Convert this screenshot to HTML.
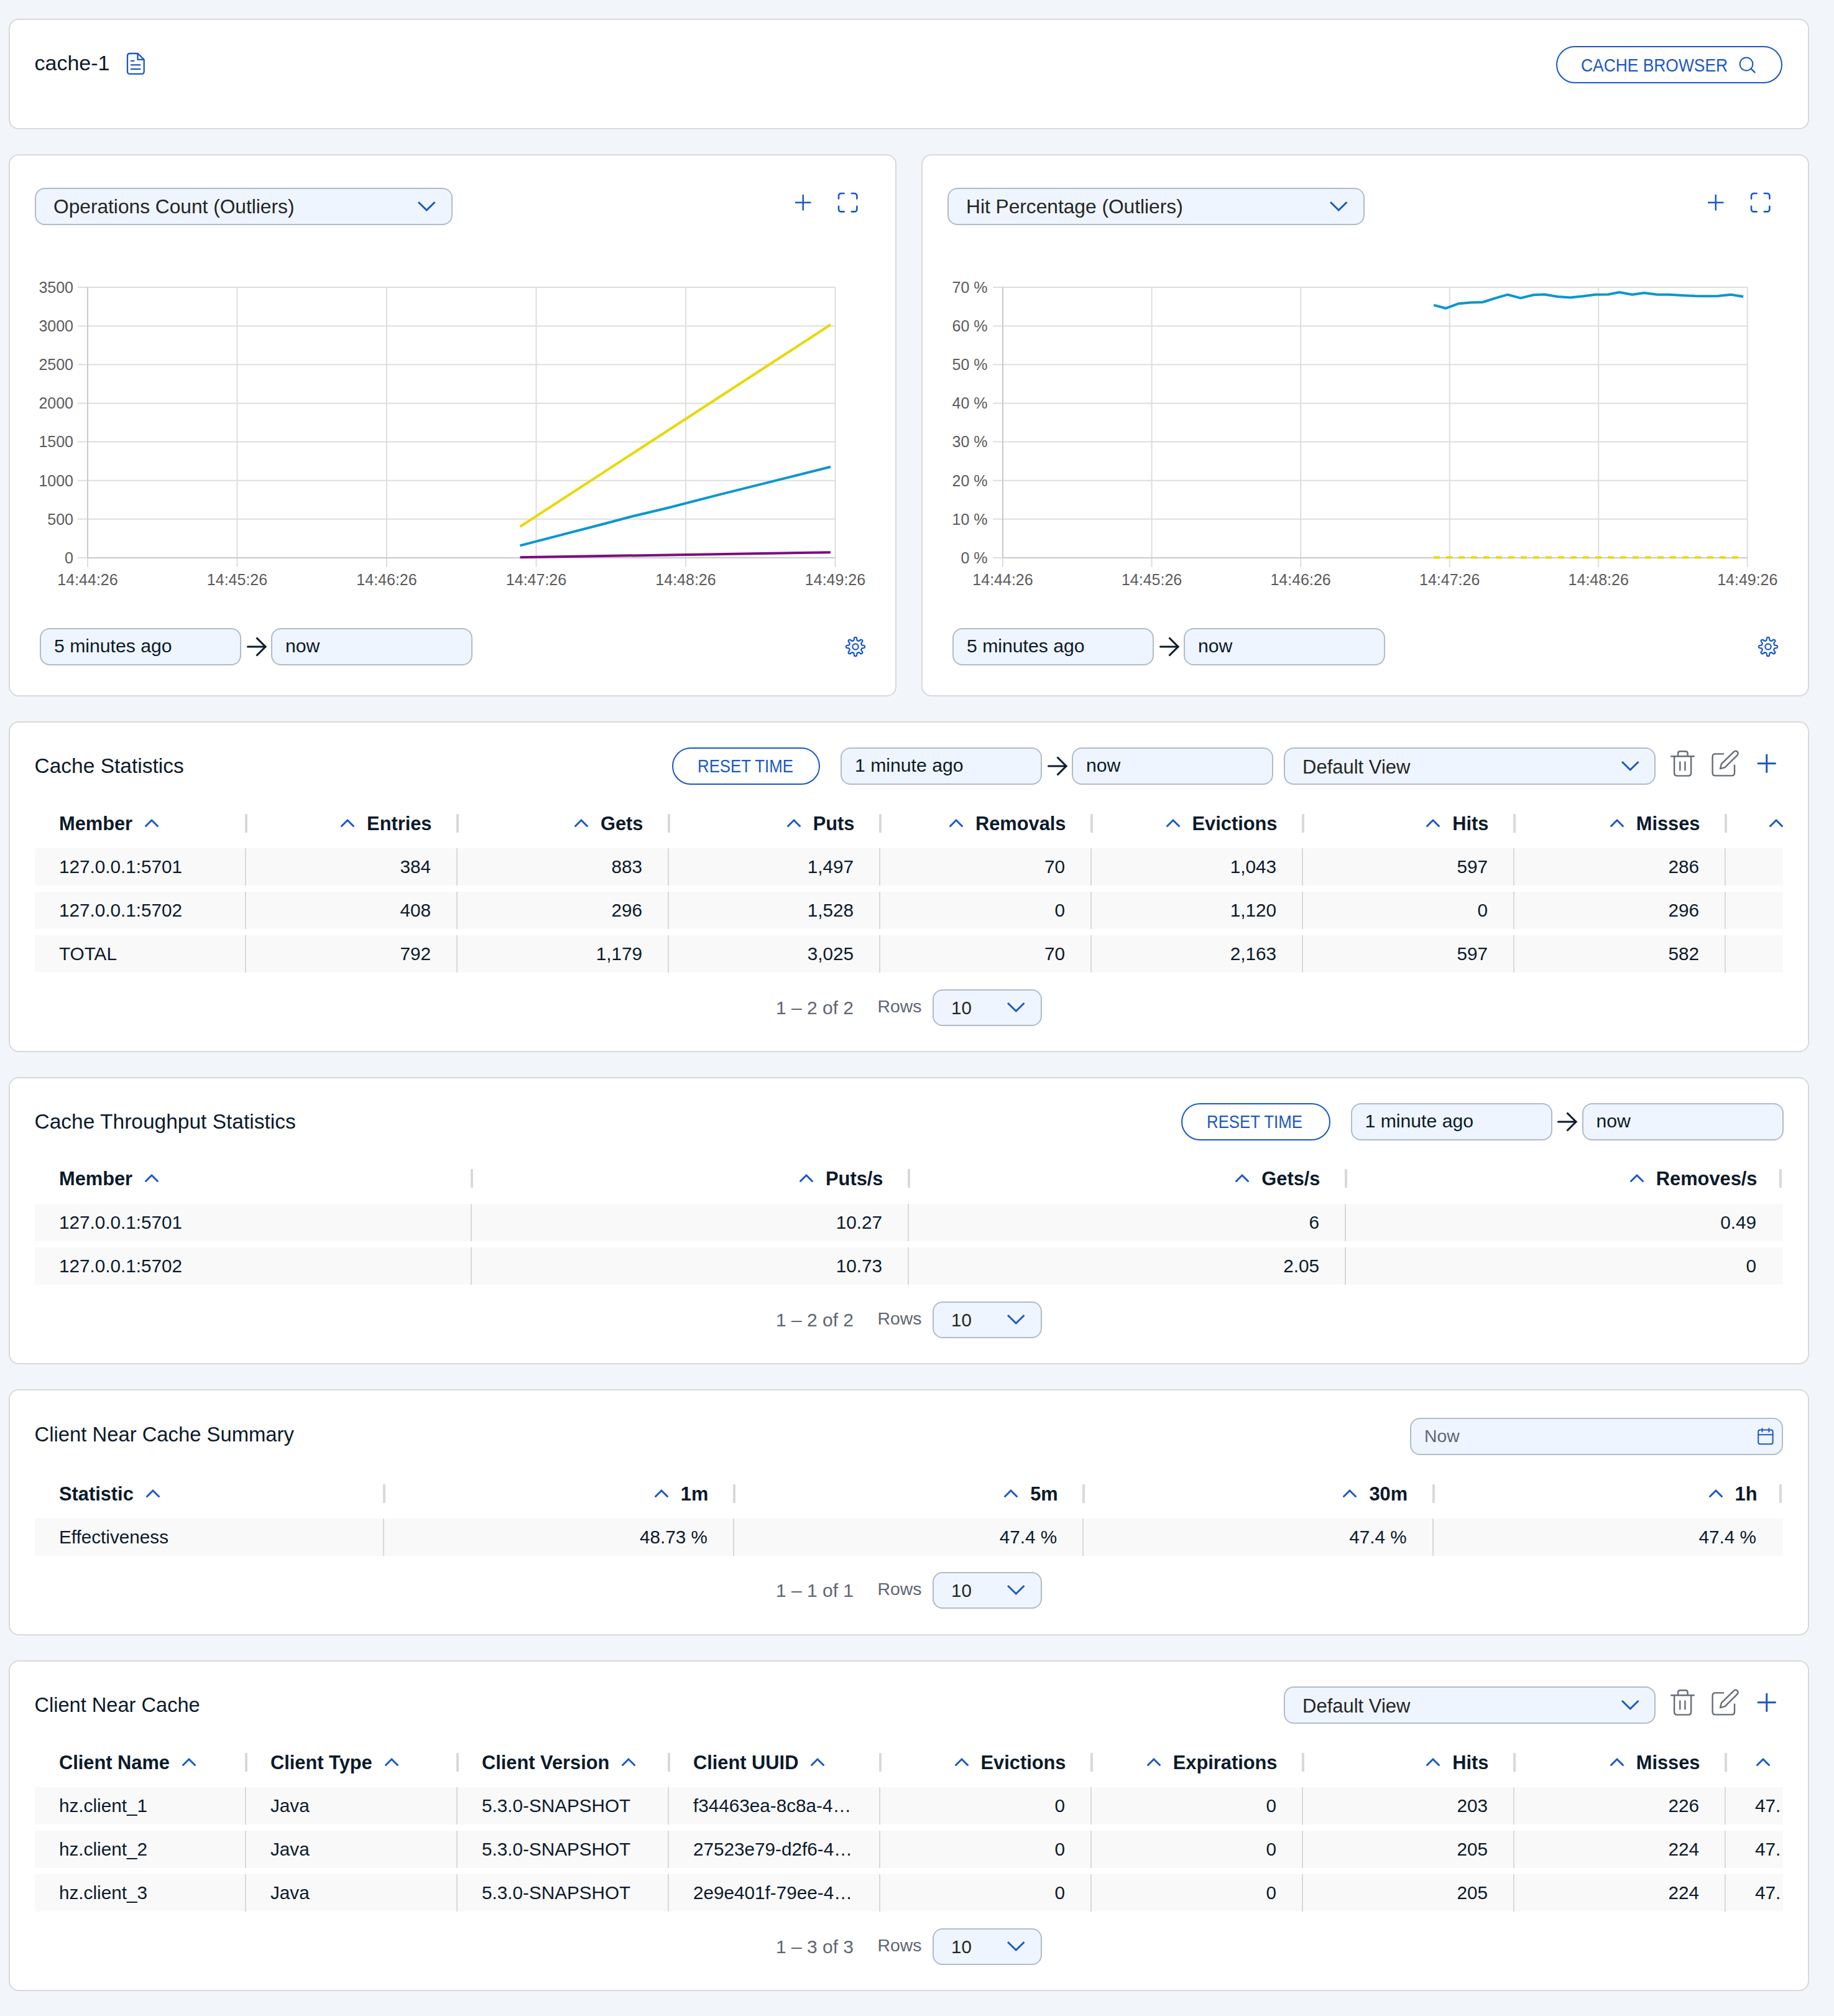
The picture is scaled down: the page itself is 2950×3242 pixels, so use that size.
<!DOCTYPE html>
<html lang="en"><head><meta charset="utf-8"><title>cache-1</title>
<style>
html,body{margin:0;padding:0}
body{width:2950px;height:3242px;position:relative;overflow:hidden;background:#f2f5fa;font-family:"Liberation Sans", Arial, Helvetica, sans-serif;}
.card{position:absolute;box-sizing:border-box;background:#fff;border:2px solid #d9d9d9;border-radius:16px;}
.a{position:absolute;display:block}
.t{position:absolute;white-space:nowrap}
svg.a{overflow:visible}
.clip{position:absolute;overflow:hidden}
</style>
<script>(function(){var w=window.innerWidth;if(w&&Math.abs(w-2950)>2){document.documentElement.style.zoom=w/2950;}})();</script>
</head><body>

<section class="card " style="left:14px;top:30px;width:2896px;height:178px">
<div class="t" style="top:51.82px;font-size:34px;line-height:34px;color:#0b1a2b;left:39.5px;">cache-1</div>
<svg class="a" style="left:185.8px;top:51.2px;" width="33" height="40" viewBox="201.8 83.2 33 40"><path d="M208.8 86.2 H221.6 L231.5 96.1 V115.1 Q231.5 119.1 227.5 119.1 H208.8 Q204.8 119.1 204.8 115.1 V90.2 Q204.8 86.2 208.8 86.2 Z M221.3 86.6 V96.1 H231.3 M210.7 98 H215.2 M210.7 104.6 H225.2 M210.7 111.4 H225.2" stroke="#1b57c4" stroke-width="2.3" fill="none" stroke-linecap="round" stroke-linejoin="round"/></svg>
<div class="a" style="left:2487px;top:42px;width:364px;height:60px;border:2px solid #1b57c4;border-radius:40px;box-sizing:border-box;background:#fff;"></div>
<div class="t" style="top:58.95px;font-size:29px;line-height:29px;color:#1b57c4;transform:scaleX(0.91);transform-origin:left center;left:2527px;">CACHE BROWSER</div>
<svg class="a" style="left:2778.6px;top:56.7px;" width="31" height="31" viewBox="2794.6 88.7 31 31"><circle cx="2808.6" cy="102.7" r="10.4" stroke="#1b57c4" stroke-width="2" fill="none"/><path d="M2816.2 110.3 L2822.2 116.1" stroke="#1b57c4" stroke-width="2.2" stroke-linecap="round"/></svg>
</section>
<section class="card " style="left:14px;top:248px;width:1428px;height:872px">
<div class="a" style="left:40px;top:52px;width:672px;height:60px;background:#eef5fe;border:2px solid #b0bcc8;border-radius:16px;box-sizing:border-box;"></div>
<div class="t" style="top:67.17px;font-size:31.7px;line-height:31.7px;color:#252525;left:70px;">Operations Count (Outliers)</div>
<svg class="a" style="left:652.75px;top:71.3px;" width="34.5" height="22" viewBox="668.75 321.3 34.5 22"><path d="M672.75 325.3 L686 338.3 L699.25 325.3" fill="none" stroke="#1b57c4" stroke-width="3" stroke-linecap="butt" stroke-linejoin="miter"/></svg>
<svg class="a" style="left:1260.25px;top:60.15px;" width="31.5" height="31.5" viewBox="1276.25 310.15 31.5 31.5"><path d="M1279.25 325.9 H1304.75 M1292 313.15 V338.65" stroke="#1b57c4" stroke-width="2.5" stroke-linecap="butt" fill="none"/></svg>
<svg class="a" style="left:1330.3px;top:58.3px;" width="35.4" height="35.4" viewBox="1346.3 308.3 35.4 35.4"><path d="M1349.3 319.9 V315.8 Q1349.3 311.3 1353.8 311.3 H1357.9 M1370.1 311.3 H1374.2 Q1378.7 311.3 1378.7 315.8 V319.9 M1378.7 332.1 V336.2 Q1378.7 340.7 1374.2 340.7 H1370.1 M1357.9 340.7 H1353.8 Q1349.3 340.7 1349.3 336.2 V332.1" stroke="#1b57c4" stroke-width="2.6" fill="none" stroke-linecap="round"/></svg>
<svg class="a" style="left:5px;top:190px;font-family:'Liberation Sans', Arial, Helvetica, sans-serif;" width="1392.5" height="520" viewBox="21 440 1392.5 520"><line x1="125" y1="462" x2="1343.5" y2="462" stroke="#dedede" stroke-width="2"/><line x1="125" y1="524.14" x2="1343.5" y2="524.14" stroke="#dedede" stroke-width="2"/><line x1="125" y1="586.29" x2="1343.5" y2="586.29" stroke="#dedede" stroke-width="2"/><line x1="125" y1="648.43" x2="1343.5" y2="648.43" stroke="#dedede" stroke-width="2"/><line x1="125" y1="710.57" x2="1343.5" y2="710.57" stroke="#dedede" stroke-width="2"/><line x1="125" y1="772.71" x2="1343.5" y2="772.71" stroke="#dedede" stroke-width="2"/><line x1="125" y1="834.86" x2="1343.5" y2="834.86" stroke="#dedede" stroke-width="2"/><line x1="125" y1="897" x2="1343.5" y2="897" stroke="#dedede" stroke-width="2"/><line x1="141" y1="462" x2="141" y2="912" stroke="#dedede" stroke-width="2"/><line x1="381.5" y1="462" x2="381.5" y2="912" stroke="#dedede" stroke-width="2"/><line x1="622" y1="462" x2="622" y2="912" stroke="#dedede" stroke-width="2"/><line x1="862.5" y1="462" x2="862.5" y2="912" stroke="#dedede" stroke-width="2"/><line x1="1103" y1="462" x2="1103" y2="912" stroke="#dedede" stroke-width="2"/><line x1="1343.5" y1="462" x2="1343.5" y2="912" stroke="#dedede" stroke-width="2"/><line x1="141" y1="462" x2="141" y2="897" stroke="#c9c9c9" stroke-width="2"/><line x1="141" y1="897" x2="1343.5" y2="897" stroke="#c9c9c9" stroke-width="2"/><polyline points="836.5,847 1336.2,522" fill="none" stroke="#e9d80a" stroke-width="4" stroke-linejoin="round"/><polyline points="836.5,877.4 976,841.3 1013.6,831.2 1074.3,816.7 1155.3,795.9 1336,750.8" fill="none" stroke="#0a97cf" stroke-width="4" stroke-linejoin="round"/><polyline points="836.5,896.3 1336,888.2" fill="none" stroke="#7c0f7b" stroke-width="4" stroke-linejoin="round"/><text x="118" y="470.8" text-anchor="end" font-size="25" fill="#5b5b5b">3500</text><text x="118" y="532.94" text-anchor="end" font-size="25" fill="#5b5b5b">3000</text><text x="118" y="595.09" text-anchor="end" font-size="25" fill="#5b5b5b">2500</text><text x="118" y="657.23" text-anchor="end" font-size="25" fill="#5b5b5b">2000</text><text x="118" y="719.37" text-anchor="end" font-size="25" fill="#5b5b5b">1500</text><text x="118" y="781.51" text-anchor="end" font-size="25" fill="#5b5b5b">1000</text><text x="118" y="843.66" text-anchor="end" font-size="25" fill="#5b5b5b">500</text><text x="118" y="905.8" text-anchor="end" font-size="25" fill="#5b5b5b">0</text><text x="141" y="941.3" text-anchor="middle" font-size="25" fill="#5b5b5b">14:44:26</text><text x="381.5" y="941.3" text-anchor="middle" font-size="25" fill="#5b5b5b">14:45:26</text><text x="622" y="941.3" text-anchor="middle" font-size="25" fill="#5b5b5b">14:46:26</text><text x="862.5" y="941.3" text-anchor="middle" font-size="25" fill="#5b5b5b">14:47:26</text><text x="1103" y="941.3" text-anchor="middle" font-size="25" fill="#5b5b5b">14:48:26</text><text x="1343.5" y="941.3" text-anchor="middle" font-size="25" fill="#5b5b5b">14:49:26</text></svg>
<div class="a" style="left:48px;top:760px;width:324px;height:60px;background:#eef5fe;border:2px solid #b0bcc8;border-radius:16px;box-sizing:border-box;"></div>
<div class="t" style="top:773.74px;font-size:30.2px;line-height:30.2px;color:#0b1a2b;left:71px;">5 minutes ago</div>
<svg class="a" style="left:378.5px;top:770px;" width="38" height="40" viewBox="394.5 1020 38 40"><path d="M398 1040 H426.5" stroke="#0b1a2b" stroke-width="3" stroke-linecap="round" fill="none"/><path d="M412 1025.5 L426.5 1040 L412 1054.5" stroke="#0b1a2b" stroke-width="3" fill="none" stroke-linecap="butt" stroke-linejoin="miter"/></svg>
<div class="a" style="left:420px;top:760px;width:324px;height:60px;background:#eef5fe;border:2px solid #b0bcc8;border-radius:16px;box-sizing:border-box;"></div>
<div class="t" style="top:773.74px;font-size:30.2px;line-height:30.2px;color:#0b1a2b;left:443px;">now</div>
<svg class="a" style="left:1342px;top:772px;" width="36" height="36" viewBox="1358 1022 36 36"><path d="M1374.22 1025.51 Q1376 1024.2 1377.78 1025.51 L1378.69 1029.95 A10.4 10.4 0 0 1 1381.2 1030.99 L1384.99 1028.5 Q1387.17 1028.83 1387.5 1031.01 L1385.01 1034.8 A10.4 10.4 0 0 1 1386.05 1037.31 L1390.49 1038.22 Q1391.8 1040 1390.49 1041.78 L1386.05 1042.69 A10.4 10.4 0 0 1 1385.01 1045.2 L1387.5 1048.99 Q1387.17 1051.17 1384.99 1051.5 L1381.2 1049.01 A10.4 10.4 0 0 1 1378.69 1050.05 L1377.78 1054.49 Q1376 1055.8 1374.22 1054.49 L1373.31 1050.05 A10.4 10.4 0 0 1 1370.8 1049.01 L1367.01 1051.5 Q1364.83 1051.17 1364.5 1048.99 L1366.99 1045.2 A10.4 10.4 0 0 1 1365.95 1042.69 L1361.51 1041.78 Q1360.2 1040 1361.51 1038.22 L1365.95 1037.31 A10.4 10.4 0 0 1 1366.99 1034.8 L1364.5 1031.01 Q1364.83 1028.83 1367.01 1028.5 L1370.8 1030.99 A10.4 10.4 0 0 1 1373.31 1029.95 Z" fill="none" stroke="#1b57c4" stroke-width="2.2" stroke-linejoin="round"/><circle cx="1376" cy="1040" r="4.7" fill="none" stroke="#1b57c4" stroke-width="2.2"/></svg>
</section>
<section class="card " style="left:1482px;top:248px;width:1428px;height:872px">
<div class="a" style="left:39.5px;top:52px;width:671.5px;height:60px;background:#eef5fe;border:2px solid #b0bcc8;border-radius:16px;box-sizing:border-box;"></div>
<div class="t" style="top:67.17px;font-size:31.7px;line-height:31.7px;color:#252525;left:70px;">Hit Percentage (Outliers)</div>
<svg class="a" style="left:651.75px;top:71.3px;" width="34.5" height="22" viewBox="2135.75 321.3 34.5 22"><path d="M2139.75 325.3 L2153 338.3 L2166.25 325.3" fill="none" stroke="#1b57c4" stroke-width="3" stroke-linecap="butt" stroke-linejoin="miter"/></svg>
<svg class="a" style="left:1260.25px;top:60.15px;" width="31.5" height="31.5" viewBox="2744.25 310.15 31.5 31.5"><path d="M2747.25 325.9 H2772.75 M2760 313.15 V338.65" stroke="#1b57c4" stroke-width="2.5" stroke-linecap="butt" fill="none"/></svg>
<svg class="a" style="left:1330.3px;top:58.3px;" width="35.4" height="35.4" viewBox="2814.3 308.3 35.4 35.4"><path d="M2817.3 319.9 V315.8 Q2817.3 311.3 2821.8 311.3 H2825.9 M2838.1 311.3 H2842.2 Q2846.7 311.3 2846.7 315.8 V319.9 M2846.7 332.1 V336.2 Q2846.7 340.7 2842.2 340.7 H2838.1 M2825.9 340.7 H2821.8 Q2817.3 340.7 2817.3 336.2 V332.1" stroke="#1b57c4" stroke-width="2.6" fill="none" stroke-linecap="round"/></svg>
<svg class="a" style="left:9px;top:190px;font-family:'Liberation Sans', Arial, Helvetica, sans-serif;" width="1387.8" height="520" viewBox="1493 440 1387.8 520"><line x1="1597" y1="462" x2="2810.8" y2="462" stroke="#dedede" stroke-width="2"/><line x1="1597" y1="524.14" x2="2810.8" y2="524.14" stroke="#dedede" stroke-width="2"/><line x1="1597" y1="586.29" x2="2810.8" y2="586.29" stroke="#dedede" stroke-width="2"/><line x1="1597" y1="648.43" x2="2810.8" y2="648.43" stroke="#dedede" stroke-width="2"/><line x1="1597" y1="710.57" x2="2810.8" y2="710.57" stroke="#dedede" stroke-width="2"/><line x1="1597" y1="772.71" x2="2810.8" y2="772.71" stroke="#dedede" stroke-width="2"/><line x1="1597" y1="834.86" x2="2810.8" y2="834.86" stroke="#dedede" stroke-width="2"/><line x1="1597" y1="897" x2="2810.8" y2="897" stroke="#dedede" stroke-width="2"/><line x1="1613" y1="462" x2="1613" y2="912" stroke="#dedede" stroke-width="2"/><line x1="1852.56" y1="462" x2="1852.56" y2="912" stroke="#dedede" stroke-width="2"/><line x1="2092.12" y1="462" x2="2092.12" y2="912" stroke="#dedede" stroke-width="2"/><line x1="2331.68" y1="462" x2="2331.68" y2="912" stroke="#dedede" stroke-width="2"/><line x1="2571.24" y1="462" x2="2571.24" y2="912" stroke="#dedede" stroke-width="2"/><line x1="2810.8" y1="462" x2="2810.8" y2="912" stroke="#dedede" stroke-width="2"/><line x1="1613" y1="462" x2="1613" y2="897" stroke="#c9c9c9" stroke-width="2"/><line x1="1613" y1="897" x2="2810.8" y2="897" stroke="#c9c9c9" stroke-width="2"/><polyline points="2306.2,490.6 2325.4,495.8 2346.3,488.2 2365.5,486.4 2384.7,486 2405.6,479.4 2424.8,473.8 2445.8,479.4 2466.7,474.2 2484.1,473.5 2505.1,477 2526,478.4 2547,476.3 2566.2,473.8 2587.1,473.5 2604.5,470 2625.5,473.8 2644.7,471 2665.6,473.8 2684.8,473.8 2705.7,474.9 2726.7,476 2745.9,476.3 2763.3,476 2784.3,473.8 2804.1,477" fill="none" stroke="#0a97cf" stroke-width="4" stroke-linejoin="round"/><polyline points="2306,896.5 2796,896.5" fill="none" stroke="#e9d80a" stroke-width="4" stroke-dasharray="10 10" stroke-linejoin="round"/><text x="1588.5" y="470.8" text-anchor="end" font-size="25" fill="#5b5b5b">70 %</text><text x="1588.5" y="532.94" text-anchor="end" font-size="25" fill="#5b5b5b">60 %</text><text x="1588.5" y="595.09" text-anchor="end" font-size="25" fill="#5b5b5b">50 %</text><text x="1588.5" y="657.23" text-anchor="end" font-size="25" fill="#5b5b5b">40 %</text><text x="1588.5" y="719.37" text-anchor="end" font-size="25" fill="#5b5b5b">30 %</text><text x="1588.5" y="781.51" text-anchor="end" font-size="25" fill="#5b5b5b">20 %</text><text x="1588.5" y="843.66" text-anchor="end" font-size="25" fill="#5b5b5b">10 %</text><text x="1588.5" y="905.8" text-anchor="end" font-size="25" fill="#5b5b5b">0 %</text><text x="1613" y="941.3" text-anchor="middle" font-size="25" fill="#5b5b5b">14:44:26</text><text x="1852.56" y="941.3" text-anchor="middle" font-size="25" fill="#5b5b5b">14:45:26</text><text x="2092.12" y="941.3" text-anchor="middle" font-size="25" fill="#5b5b5b">14:46:26</text><text x="2331.68" y="941.3" text-anchor="middle" font-size="25" fill="#5b5b5b">14:47:26</text><text x="2571.24" y="941.3" text-anchor="middle" font-size="25" fill="#5b5b5b">14:48:26</text><text x="2810.8" y="941.3" text-anchor="middle" font-size="25" fill="#5b5b5b">14:49:26</text></svg>
<div class="a" style="left:48px;top:760px;width:324px;height:60px;background:#eef5fe;border:2px solid #b0bcc8;border-radius:16px;box-sizing:border-box;"></div>
<div class="t" style="top:773.74px;font-size:30.2px;line-height:30.2px;color:#0b1a2b;left:71px;">5 minutes ago</div>
<svg class="a" style="left:378.5px;top:770px;" width="38" height="40" viewBox="1862.5 1020 38 40"><path d="M1866 1040 H1894.5" stroke="#0b1a2b" stroke-width="3" stroke-linecap="round" fill="none"/><path d="M1880 1025.5 L1894.5 1040 L1880 1054.5" stroke="#0b1a2b" stroke-width="3" fill="none" stroke-linecap="butt" stroke-linejoin="miter"/></svg>
<div class="a" style="left:420px;top:760px;width:324px;height:60px;background:#eef5fe;border:2px solid #b0bcc8;border-radius:16px;box-sizing:border-box;"></div>
<div class="t" style="top:773.74px;font-size:30.2px;line-height:30.2px;color:#0b1a2b;left:443px;">now</div>
<svg class="a" style="left:1342px;top:772px;" width="36" height="36" viewBox="2826 1022 36 36"><path d="M2842.22 1025.51 Q2844 1024.2 2845.78 1025.51 L2846.69 1029.95 A10.4 10.4 0 0 1 2849.2 1030.99 L2852.99 1028.5 Q2855.17 1028.83 2855.5 1031.01 L2853.01 1034.8 A10.4 10.4 0 0 1 2854.05 1037.31 L2858.49 1038.22 Q2859.8 1040 2858.49 1041.78 L2854.05 1042.69 A10.4 10.4 0 0 1 2853.01 1045.2 L2855.5 1048.99 Q2855.17 1051.17 2852.99 1051.5 L2849.2 1049.01 A10.4 10.4 0 0 1 2846.69 1050.05 L2845.78 1054.49 Q2844 1055.8 2842.22 1054.49 L2841.31 1050.05 A10.4 10.4 0 0 1 2838.8 1049.01 L2835.01 1051.5 Q2832.83 1051.17 2832.5 1048.99 L2834.99 1045.2 A10.4 10.4 0 0 1 2833.95 1042.69 L2829.51 1041.78 Q2828.2 1040 2829.51 1038.22 L2833.95 1037.31 A10.4 10.4 0 0 1 2834.99 1034.8 L2832.5 1031.01 Q2832.83 1028.83 2835.01 1028.5 L2838.8 1030.99 A10.4 10.4 0 0 1 2841.31 1029.95 Z" fill="none" stroke="#1b57c4" stroke-width="2.2" stroke-linejoin="round"/><circle cx="2844" cy="1040" r="4.7" fill="none" stroke="#1b57c4" stroke-width="2.2"/></svg>
</section>
<section class="card " style="left:14px;top:1160px;width:2896px;height:532px">
<div class="t" style="top:52.54px;font-size:33.5px;line-height:33.5px;color:#0b1a2b;left:39.5px;">Cache Statistics</div>
<div class="a" style="left:1064.6px;top:40px;width:238.9px;height:60px;border:2px solid #1b57c4;border-radius:40px;box-sizing:border-box;background:#fff;"></div>
<div class="t" style="top:56.45px;font-size:29px;line-height:29px;color:#1b57c4;transform:scaleX(0.89);transform-origin:left center;left:1105.5px;">RESET TIME</div>
<div class="a" style="left:1336px;top:40px;width:324px;height:60px;background:#eef5fe;border:2px solid #b0bcc8;border-radius:16px;box-sizing:border-box;"></div>
<div class="t" style="top:53.74px;font-size:30.2px;line-height:30.2px;color:#0b1a2b;left:1359px;">1 minute ago</div>
<svg class="a" style="left:1666.5px;top:50px;" width="38" height="40" viewBox="1682.5 1212 38 40"><path d="M1686 1232 H1714.5" stroke="#0b1a2b" stroke-width="3" stroke-linecap="round" fill="none"/><path d="M1700 1217.5 L1714.5 1232 L1700 1246.5" stroke="#0b1a2b" stroke-width="3" fill="none" stroke-linecap="butt" stroke-linejoin="miter"/></svg>
<div class="a" style="left:1708px;top:40px;width:324px;height:60px;background:#eef5fe;border:2px solid #b0bcc8;border-radius:16px;box-sizing:border-box;"></div>
<div class="t" style="top:53.74px;font-size:30.2px;line-height:30.2px;color:#0b1a2b;left:1731px;">now</div>
<div class="a" style="left:2049px;top:40px;width:598px;height:60px;background:#eef5fe;border:2px solid #b0bcc8;border-radius:16px;box-sizing:border-box;"></div>
<div class="t" style="top:56.26px;font-size:31px;line-height:31px;color:#252525;left:2079px;">Default View</div>
<svg class="a" style="left:2588.75px;top:59px;" width="34.5" height="22" viewBox="2604.75 1221 34.5 22"><path d="M2608.75 1225 L2622 1238 L2635.25 1225" fill="none" stroke="#1b57c4" stroke-width="3" stroke-linecap="butt" stroke-linejoin="miter"/></svg>
<svg class="a" style="left:2667.5px;top:42px;" width="47" height="50" viewBox="2683.5 1204 47 50"><path d="M2687.7 1216.2 H2724.3 M2692.6 1216.4 V1243 Q2692.6 1247.6 2697.2 1247.6 H2715 Q2719.6 1247.6 2719.6 1243 V1216.4 M2698.6 1215.5 V1211.5 Q2698.6 1208.2 2702 1208.2 H2710.6 Q2714.1 1208.2 2714.1 1211.5 V1215.5 M2701.8 1225.4 V1238.4 M2709.9 1225.4 V1238.4" stroke="#646b78" stroke-width="2.4" fill="none" stroke-linecap="round" stroke-linejoin="round"/></svg>
<svg class="a" style="left:2733.6px;top:42px;" width="51" height="49" viewBox="2749.6 1204 51 49"><path d="M2772.6 1212.4 H2759 Q2754.2 1212.4 2754.2 1217 V1242.7 Q2754.2 1247.4 2758.8 1247.4 H2785 Q2789.6 1247.4 2789.6 1242.7 V1229.8 " stroke="#646b78" stroke-width="2.4" fill="none" stroke-linecap="butt" stroke-linejoin="round"/><path d="M2766.6 1236.2 L2768.6 1228.3 L2788.6 1208.9 A3.7 3.7 0 0 1 2794.1 1214.3 L2774.2 1234.2 Z" stroke="#646b78" stroke-width="2.4" fill="none" stroke-linejoin="round"/></svg>
<svg class="a" style="left:2809.25px;top:49.05px;" width="33.5" height="33.5" viewBox="2825.25 1211.05 33.5 33.5"><path d="M2828.25 1227.8 H2855.75 M2842 1214.05 V1241.55" stroke="#1b57c4" stroke-width="3" stroke-linecap="round" fill="none"/></svg>
<div class="clip" style="left:0px;top:0px;width:2852px;height:600px">
<div class="t" style="top:147.63px;font-size:30.8px;line-height:30.8px;color:#0b1a2b;font-weight:700;left:79px;">Member</div>
<svg class="a" style="left:215.1px;top:152.6px;" width="26" height="17" viewBox="231.1 1314.6 26 17"><path d="M234.6 1328.1 L244.1 1318.6 L253.6 1328.1" fill="none" stroke="#1b57c4" stroke-width="3" stroke-linecap="round" stroke-linejoin="miter"/></svg>
<div class="a" style="left:378px;top:147px;width:4px;height:30px;background:#d9d9d9;"></div>
<div class="t" style="top:147.63px;font-size:30.8px;line-height:30.8px;color:#0b1a2b;font-weight:700;left:-521.5px;width:1200px;text-align:right;">Entries</div>
<svg class="a" style="left:530.09px;top:152.6px;" width="26" height="17" viewBox="546.09 1314.6 26 17"><path d="M549.59 1328.1 L559.09 1318.6 L568.59 1328.1" fill="none" stroke="#1b57c4" stroke-width="3" stroke-linecap="round" stroke-linejoin="miter"/></svg>
<div class="a" style="left:718px;top:147px;width:4px;height:30px;background:#d9d9d9;"></div>
<div class="t" style="top:147.63px;font-size:30.8px;line-height:30.8px;color:#0b1a2b;font-weight:700;left:-181.5px;width:1200px;text-align:right;">Gets</div>
<svg class="a" style="left:906.03px;top:152.6px;" width="26" height="17" viewBox="922.03 1314.6 26 17"><path d="M925.53 1328.1 L935.03 1318.6 L944.53 1328.1" fill="none" stroke="#1b57c4" stroke-width="3" stroke-linecap="round" stroke-linejoin="miter"/></svg>
<div class="a" style="left:1058px;top:147px;width:4px;height:30px;background:#d9d9d9;"></div>
<div class="t" style="top:147.63px;font-size:30.8px;line-height:30.8px;color:#0b1a2b;font-weight:700;left:158.5px;width:1200px;text-align:right;">Puts</div>
<svg class="a" style="left:1247.76px;top:152.6px;" width="26" height="17" viewBox="1263.76 1314.6 26 17"><path d="M1267.26 1328.1 L1276.76 1318.6 L1286.26 1328.1" fill="none" stroke="#1b57c4" stroke-width="3" stroke-linecap="round" stroke-linejoin="miter"/></svg>
<div class="a" style="left:1398px;top:147px;width:4px;height:30px;background:#d9d9d9;"></div>
<div class="t" style="top:147.63px;font-size:30.8px;line-height:30.8px;color:#0b1a2b;font-weight:700;left:498.5px;width:1200px;text-align:right;">Removals</div>
<svg class="a" style="left:1508.99px;top:152.6px;" width="26" height="17" viewBox="1524.99 1314.6 26 17"><path d="M1528.49 1328.1 L1537.99 1318.6 L1547.49 1328.1" fill="none" stroke="#1b57c4" stroke-width="3" stroke-linecap="round" stroke-linejoin="miter"/></svg>
<div class="a" style="left:1738px;top:147px;width:4px;height:30px;background:#d9d9d9;"></div>
<div class="t" style="top:147.63px;font-size:30.8px;line-height:30.8px;color:#0b1a2b;font-weight:700;left:838.5px;width:1200px;text-align:right;">Evictions</div>
<svg class="a" style="left:1857.58px;top:152.6px;" width="26" height="17" viewBox="1873.58 1314.6 26 17"><path d="M1877.08 1328.1 L1886.58 1318.6 L1896.08 1328.1" fill="none" stroke="#1b57c4" stroke-width="3" stroke-linecap="round" stroke-linejoin="miter"/></svg>
<div class="a" style="left:2078px;top:147px;width:4px;height:30px;background:#d9d9d9;"></div>
<div class="t" style="top:147.63px;font-size:30.8px;line-height:30.8px;color:#0b1a2b;font-weight:700;left:1178.5px;width:1200px;text-align:right;">Hits</div>
<svg class="a" style="left:2276.32px;top:152.6px;" width="26" height="17" viewBox="2292.32 1314.6 26 17"><path d="M2295.82 1328.1 L2305.32 1318.6 L2314.82 1328.1" fill="none" stroke="#1b57c4" stroke-width="3" stroke-linecap="round" stroke-linejoin="miter"/></svg>
<div class="a" style="left:2418px;top:147px;width:4px;height:30px;background:#d9d9d9;"></div>
<div class="t" style="top:147.63px;font-size:30.8px;line-height:30.8px;color:#0b1a2b;font-weight:700;left:1518.5px;width:1200px;text-align:right;">Misses</div>
<svg class="a" style="left:2571.78px;top:152.6px;" width="26" height="17" viewBox="2587.78 1314.6 26 17"><path d="M2591.28 1328.1 L2600.78 1318.6 L2610.28 1328.1" fill="none" stroke="#1b57c4" stroke-width="3" stroke-linecap="round" stroke-linejoin="miter"/></svg>
<div class="a" style="left:2758px;top:147px;width:4px;height:30px;background:#d9d9d9;"></div>
<svg class="a" style="left:2828px;top:152.6px;" width="26" height="17" viewBox="2844 1314.6 26 17"><path d="M2847.5 1328.1 L2857 1318.6 L2866.5 1328.1" fill="none" stroke="#1b57c4" stroke-width="3" stroke-linecap="round" stroke-linejoin="miter"/></svg>
<div class="a" style="left:40px;top:202px;width:2812px;height:60px;background:#f9f9f9;"></div>
<div class="t" style="top:217.16px;font-size:29.7px;line-height:29.7px;color:#0b1a2b;left:79px;">127.0.0.1:5701</div>
<div class="a" style="left:378px;top:202px;width:2px;height:60px;background:#d9d9d9;"></div>
<div class="t" style="top:217.16px;font-size:29.7px;line-height:29.7px;color:#0b1a2b;left:-523px;width:1200px;text-align:right;">384</div>
<div class="a" style="left:718px;top:202px;width:2px;height:60px;background:#d9d9d9;"></div>
<div class="t" style="top:217.16px;font-size:29.7px;line-height:29.7px;color:#0b1a2b;left:-183px;width:1200px;text-align:right;">883</div>
<div class="a" style="left:1058px;top:202px;width:2px;height:60px;background:#d9d9d9;"></div>
<div class="t" style="top:217.16px;font-size:29.7px;line-height:29.7px;color:#0b1a2b;left:157px;width:1200px;text-align:right;">1,497</div>
<div class="a" style="left:1398px;top:202px;width:2px;height:60px;background:#d9d9d9;"></div>
<div class="t" style="top:217.16px;font-size:29.7px;line-height:29.7px;color:#0b1a2b;left:497px;width:1200px;text-align:right;">70</div>
<div class="a" style="left:1738px;top:202px;width:2px;height:60px;background:#d9d9d9;"></div>
<div class="t" style="top:217.16px;font-size:29.7px;line-height:29.7px;color:#0b1a2b;left:837px;width:1200px;text-align:right;">1,043</div>
<div class="a" style="left:2078px;top:202px;width:2px;height:60px;background:#d9d9d9;"></div>
<div class="t" style="top:217.16px;font-size:29.7px;line-height:29.7px;color:#0b1a2b;left:1177px;width:1200px;text-align:right;">597</div>
<div class="a" style="left:2418px;top:202px;width:2px;height:60px;background:#d9d9d9;"></div>
<div class="t" style="top:217.16px;font-size:29.7px;line-height:29.7px;color:#0b1a2b;left:1517px;width:1200px;text-align:right;">286</div>
<div class="a" style="left:2758px;top:202px;width:2px;height:60px;background:#d9d9d9;"></div>
<div class="a" style="left:40px;top:272px;width:2812px;height:60px;background:#f9f9f9;"></div>
<div class="t" style="top:287.16px;font-size:29.7px;line-height:29.7px;color:#0b1a2b;left:79px;">127.0.0.1:5702</div>
<div class="a" style="left:378px;top:272px;width:2px;height:60px;background:#d9d9d9;"></div>
<div class="t" style="top:287.16px;font-size:29.7px;line-height:29.7px;color:#0b1a2b;left:-523px;width:1200px;text-align:right;">408</div>
<div class="a" style="left:718px;top:272px;width:2px;height:60px;background:#d9d9d9;"></div>
<div class="t" style="top:287.16px;font-size:29.7px;line-height:29.7px;color:#0b1a2b;left:-183px;width:1200px;text-align:right;">296</div>
<div class="a" style="left:1058px;top:272px;width:2px;height:60px;background:#d9d9d9;"></div>
<div class="t" style="top:287.16px;font-size:29.7px;line-height:29.7px;color:#0b1a2b;left:157px;width:1200px;text-align:right;">1,528</div>
<div class="a" style="left:1398px;top:272px;width:2px;height:60px;background:#d9d9d9;"></div>
<div class="t" style="top:287.16px;font-size:29.7px;line-height:29.7px;color:#0b1a2b;left:497px;width:1200px;text-align:right;">0</div>
<div class="a" style="left:1738px;top:272px;width:2px;height:60px;background:#d9d9d9;"></div>
<div class="t" style="top:287.16px;font-size:29.7px;line-height:29.7px;color:#0b1a2b;left:837px;width:1200px;text-align:right;">1,120</div>
<div class="a" style="left:2078px;top:272px;width:2px;height:60px;background:#d9d9d9;"></div>
<div class="t" style="top:287.16px;font-size:29.7px;line-height:29.7px;color:#0b1a2b;left:1177px;width:1200px;text-align:right;">0</div>
<div class="a" style="left:2418px;top:272px;width:2px;height:60px;background:#d9d9d9;"></div>
<div class="t" style="top:287.16px;font-size:29.7px;line-height:29.7px;color:#0b1a2b;left:1517px;width:1200px;text-align:right;">296</div>
<div class="a" style="left:2758px;top:272px;width:2px;height:60px;background:#d9d9d9;"></div>
<div class="a" style="left:40px;top:342px;width:2812px;height:60px;background:#f9f9f9;"></div>
<div class="t" style="top:357.16px;font-size:29.7px;line-height:29.7px;color:#0b1a2b;left:79px;">TOTAL</div>
<div class="a" style="left:378px;top:342px;width:2px;height:60px;background:#d9d9d9;"></div>
<div class="t" style="top:357.16px;font-size:29.7px;line-height:29.7px;color:#0b1a2b;left:-523px;width:1200px;text-align:right;">792</div>
<div class="a" style="left:718px;top:342px;width:2px;height:60px;background:#d9d9d9;"></div>
<div class="t" style="top:357.16px;font-size:29.7px;line-height:29.7px;color:#0b1a2b;left:-183px;width:1200px;text-align:right;">1,179</div>
<div class="a" style="left:1058px;top:342px;width:2px;height:60px;background:#d9d9d9;"></div>
<div class="t" style="top:357.16px;font-size:29.7px;line-height:29.7px;color:#0b1a2b;left:157px;width:1200px;text-align:right;">3,025</div>
<div class="a" style="left:1398px;top:342px;width:2px;height:60px;background:#d9d9d9;"></div>
<div class="t" style="top:357.16px;font-size:29.7px;line-height:29.7px;color:#0b1a2b;left:497px;width:1200px;text-align:right;">70</div>
<div class="a" style="left:1738px;top:342px;width:2px;height:60px;background:#d9d9d9;"></div>
<div class="t" style="top:357.16px;font-size:29.7px;line-height:29.7px;color:#0b1a2b;left:837px;width:1200px;text-align:right;">2,163</div>
<div class="a" style="left:2078px;top:342px;width:2px;height:60px;background:#d9d9d9;"></div>
<div class="t" style="top:357.16px;font-size:29.7px;line-height:29.7px;color:#0b1a2b;left:1177px;width:1200px;text-align:right;">597</div>
<div class="a" style="left:2418px;top:342px;width:2px;height:60px;background:#d9d9d9;"></div>
<div class="t" style="top:357.16px;font-size:29.7px;line-height:29.7px;color:#0b1a2b;left:1517px;width:1200px;text-align:right;">582</div>
<div class="a" style="left:2758px;top:342px;width:2px;height:60px;background:#d9d9d9;"></div>
</div>
<div class="t" style="top:443.9px;font-size:30px;line-height:30px;color:#5e6673;left:157px;width:1200px;text-align:right;">1 – 2 of 2</div>
<div class="t" style="top:441.56px;font-size:28.4px;line-height:28.4px;color:#5e6673;left:1395.5px;">Rows</div>
<div class="a" style="left:1484px;top:429px;width:176px;height:59px;background:#eef5fe;border:2px solid #b0bcc8;border-radius:16px;box-sizing:border-box;"></div>
<div class="t" style="top:444.33px;font-size:29.5px;line-height:29.5px;color:#252525;left:1514px;">10</div>
<svg class="a" style="left:1600.75px;top:447px;" width="34.5" height="22" viewBox="1616.75 1609 34.5 22"><path d="M1620.75 1613 L1634 1626 L1647.25 1613" fill="none" stroke="#1b57c4" stroke-width="3" stroke-linecap="butt" stroke-linejoin="miter"/></svg>
</section>
<section class="card " style="left:14px;top:1732px;width:2896px;height:462px">
<div class="t" style="top:52.94px;font-size:33.5px;line-height:33.5px;color:#0b1a2b;left:39.5px;">Cache Throughput Statistics</div>
<div class="a" style="left:1884px;top:40px;width:239.5px;height:60px;border:2px solid #1b57c4;border-radius:40px;box-sizing:border-box;background:#fff;"></div>
<div class="t" style="top:56.45px;font-size:29px;line-height:29px;color:#1b57c4;transform:scaleX(0.89);transform-origin:left center;left:1925px;">RESET TIME</div>
<div class="a" style="left:2156.5px;top:40px;width:324px;height:60px;background:#eef5fe;border:2px solid #b0bcc8;border-radius:16px;box-sizing:border-box;"></div>
<div class="t" style="top:53.74px;font-size:30.2px;line-height:30.2px;color:#0b1a2b;left:2179.5px;">1 minute ago</div>
<svg class="a" style="left:2487px;top:50px;" width="38" height="40" viewBox="2503 1784 38 40"><path d="M2506.5 1804 H2535" stroke="#0b1a2b" stroke-width="3" stroke-linecap="round" fill="none"/><path d="M2520.5 1789.5 L2535 1804 L2520.5 1818.5" stroke="#0b1a2b" stroke-width="3" fill="none" stroke-linecap="butt" stroke-linejoin="miter"/></svg>
<div class="a" style="left:2528.5px;top:40px;width:324px;height:60px;background:#eef5fe;border:2px solid #b0bcc8;border-radius:16px;box-sizing:border-box;"></div>
<div class="t" style="top:53.74px;font-size:30.2px;line-height:30.2px;color:#0b1a2b;left:2551.5px;">now</div>
<div class="t" style="top:146.93px;font-size:30.8px;line-height:30.8px;color:#0b1a2b;font-weight:700;left:79px;">Member</div>
<svg class="a" style="left:215.1px;top:151.9px;" width="26" height="17" viewBox="231.1 1885.9 26 17"><path d="M234.6 1899.4 L244.1 1889.9 L253.6 1899.4" fill="none" stroke="#1b57c4" stroke-width="3" stroke-linecap="round" stroke-linejoin="miter"/></svg>
<div class="a" style="left:741px;top:146.3px;width:4px;height:30px;background:#d9d9d9;"></div>
<div class="t" style="top:146.93px;font-size:30.8px;line-height:30.8px;color:#0b1a2b;font-weight:700;left:204.5px;width:1200px;text-align:right;">Puts/s</div>
<svg class="a" style="left:1268.08px;top:151.9px;" width="26" height="17" viewBox="1284.08 1885.9 26 17"><path d="M1287.58 1899.4 L1297.08 1889.9 L1306.58 1899.4" fill="none" stroke="#1b57c4" stroke-width="3" stroke-linecap="round" stroke-linejoin="miter"/></svg>
<div class="a" style="left:1444px;top:146.3px;width:4px;height:30px;background:#d9d9d9;"></div>
<div class="t" style="top:146.93px;font-size:30.8px;line-height:30.8px;color:#0b1a2b;font-weight:700;left:907.5px;width:1200px;text-align:right;">Gets/s</div>
<svg class="a" style="left:1969.35px;top:151.9px;" width="26" height="17" viewBox="1985.35 1885.9 26 17"><path d="M1988.85 1899.4 L1998.35 1889.9 L2007.85 1899.4" fill="none" stroke="#1b57c4" stroke-width="3" stroke-linecap="round" stroke-linejoin="miter"/></svg>
<div class="a" style="left:2147px;top:146.3px;width:4px;height:30px;background:#d9d9d9;"></div>
<div class="t" style="top:146.93px;font-size:30.8px;line-height:30.8px;color:#0b1a2b;font-weight:700;left:1610.5px;width:1200px;text-align:right;">Removes/s</div>
<svg class="a" style="left:2603.86px;top:151.9px;" width="26" height="17" viewBox="2619.86 1885.9 26 17"><path d="M2623.36 1899.4 L2632.86 1889.9 L2642.36 1899.4" fill="none" stroke="#1b57c4" stroke-width="3" stroke-linecap="round" stroke-linejoin="miter"/></svg>
<div class="a" style="left:2846px;top:146.3px;width:4px;height:30px;background:#d9d9d9;"></div>
<div class="a" style="left:40px;top:202px;width:2812px;height:60px;background:#f9f9f9;"></div>
<div class="t" style="top:217.16px;font-size:29.7px;line-height:29.7px;color:#0b1a2b;left:79px;">127.0.0.1:5701</div>
<div class="a" style="left:741px;top:202px;width:2px;height:60px;background:#d9d9d9;"></div>
<div class="t" style="top:217.16px;font-size:29.7px;line-height:29.7px;color:#0b1a2b;left:203px;width:1200px;text-align:right;">10.27</div>
<div class="a" style="left:1444px;top:202px;width:2px;height:60px;background:#d9d9d9;"></div>
<div class="t" style="top:217.16px;font-size:29.7px;line-height:29.7px;color:#0b1a2b;left:906px;width:1200px;text-align:right;">6</div>
<div class="a" style="left:2147px;top:202px;width:2px;height:60px;background:#d9d9d9;"></div>
<div class="t" style="top:217.16px;font-size:29.7px;line-height:29.7px;color:#0b1a2b;left:1609px;width:1200px;text-align:right;">0.49</div>
<div class="a" style="left:40px;top:272px;width:2812px;height:60px;background:#f9f9f9;"></div>
<div class="t" style="top:287.16px;font-size:29.7px;line-height:29.7px;color:#0b1a2b;left:79px;">127.0.0.1:5702</div>
<div class="a" style="left:741px;top:272px;width:2px;height:60px;background:#d9d9d9;"></div>
<div class="t" style="top:287.16px;font-size:29.7px;line-height:29.7px;color:#0b1a2b;left:203px;width:1200px;text-align:right;">10.73</div>
<div class="a" style="left:1444px;top:272px;width:2px;height:60px;background:#d9d9d9;"></div>
<div class="t" style="top:287.16px;font-size:29.7px;line-height:29.7px;color:#0b1a2b;left:906px;width:1200px;text-align:right;">2.05</div>
<div class="a" style="left:2147px;top:272px;width:2px;height:60px;background:#d9d9d9;"></div>
<div class="t" style="top:287.16px;font-size:29.7px;line-height:29.7px;color:#0b1a2b;left:1609px;width:1200px;text-align:right;">0</div>
<div class="t" style="top:373.91px;font-size:30px;line-height:30px;color:#5e6673;left:157px;width:1200px;text-align:right;">1 – 2 of 2</div>
<div class="t" style="top:371.56px;font-size:28.4px;line-height:28.4px;color:#5e6673;left:1395.5px;">Rows</div>
<div class="a" style="left:1484px;top:359px;width:176px;height:59px;background:#eef5fe;border:2px solid #b0bcc8;border-radius:16px;box-sizing:border-box;"></div>
<div class="t" style="top:374.33px;font-size:29.5px;line-height:29.5px;color:#252525;left:1514px;">10</div>
<svg class="a" style="left:1600.75px;top:377px;" width="34.5" height="22" viewBox="1616.75 2111 34.5 22"><path d="M1620.75 2115 L1634 2128 L1647.25 2115" fill="none" stroke="#1b57c4" stroke-width="3" stroke-linecap="butt" stroke-linejoin="miter"/></svg>
</section>
<section class="card " style="left:14px;top:2234px;width:2896px;height:396px">
<div class="t" style="top:55.23px;font-size:32.8px;line-height:32.8px;color:#0b1a2b;left:39.5px;">Client Near Cache Summary</div>
<div class="a" style="left:2252px;top:44px;width:600px;height:60px;background:#eef5fe;border:2px solid #b0bcc8;border-radius:16px;box-sizing:border-box;"></div>
<div class="t" style="top:59.34px;font-size:28.3px;line-height:28.3px;color:#5e6673;left:2275px;">Now</div>
<svg class="a" style="left:2809px;top:58px;" width="30" height="32" viewBox="2825 2294 30 32"><rect x="2828.2" y="2299.6" width="23.4" height="22.6" rx="3" stroke="#1b57c4" stroke-width="2" fill="none"/><path d="M2828.2 2307.2 H2851.6 M2834.4 2297.2 V2302.5 M2845.4 2297.2 V2302.5" stroke="#1b57c4" stroke-width="2" stroke-linecap="round"/></svg>
<div class="t" style="top:151.73px;font-size:30.8px;line-height:30.8px;color:#0b1a2b;font-weight:700;left:79px;">Statistic</div>
<svg class="a" style="left:216.81px;top:156.7px;" width="26" height="17" viewBox="232.81 2392.7 26 17"><path d="M236.31 2406.2 L245.81 2396.7 L255.31 2406.2" fill="none" stroke="#1b57c4" stroke-width="3" stroke-linecap="round" stroke-linejoin="miter"/></svg>
<div class="a" style="left:600.4px;top:151.1px;width:4px;height:30px;background:#d9d9d9;"></div>
<div class="t" style="top:151.73px;font-size:30.8px;line-height:30.8px;color:#0b1a2b;font-weight:700;left:-76.7px;width:1200px;text-align:right;">1m</div>
<svg class="a" style="left:1034.78px;top:156.7px;" width="26" height="17" viewBox="1050.78 2392.7 26 17"><path d="M1054.28 2406.2 L1063.78 2396.7 L1073.28 2406.2" fill="none" stroke="#1b57c4" stroke-width="3" stroke-linecap="round" stroke-linejoin="miter"/></svg>
<div class="a" style="left:1162.8px;top:151.1px;width:4px;height:30px;background:#d9d9d9;"></div>
<div class="t" style="top:151.73px;font-size:30.8px;line-height:30.8px;color:#0b1a2b;font-weight:700;left:485.7px;width:1200px;text-align:right;">5m</div>
<svg class="a" style="left:1597.18px;top:156.7px;" width="26" height="17" viewBox="1613.18 2392.7 26 17"><path d="M1616.68 2406.2 L1626.18 2396.7 L1635.68 2406.2" fill="none" stroke="#1b57c4" stroke-width="3" stroke-linecap="round" stroke-linejoin="miter"/></svg>
<div class="a" style="left:1725.2px;top:151.1px;width:4px;height:30px;background:#d9d9d9;"></div>
<div class="t" style="top:151.73px;font-size:30.8px;line-height:30.8px;color:#0b1a2b;font-weight:700;left:1048.1px;width:1200px;text-align:right;">30m</div>
<svg class="a" style="left:2142.46px;top:156.7px;" width="26" height="17" viewBox="2158.46 2392.7 26 17"><path d="M2161.96 2406.2 L2171.46 2396.7 L2180.96 2406.2" fill="none" stroke="#1b57c4" stroke-width="3" stroke-linecap="round" stroke-linejoin="miter"/></svg>
<div class="a" style="left:2287.6px;top:151.1px;width:4px;height:30px;background:#d9d9d9;"></div>
<div class="t" style="top:151.73px;font-size:30.8px;line-height:30.8px;color:#0b1a2b;font-weight:700;left:1610.5px;width:1200px;text-align:right;">1h</div>
<svg class="a" style="left:2730.56px;top:156.7px;" width="26" height="17" viewBox="2746.56 2392.7 26 17"><path d="M2750.06 2406.2 L2759.56 2396.7 L2769.06 2406.2" fill="none" stroke="#1b57c4" stroke-width="3" stroke-linecap="round" stroke-linejoin="miter"/></svg>
<div class="a" style="left:2846px;top:151.1px;width:4px;height:30px;background:#d9d9d9;"></div>
<div class="a" style="left:40px;top:206px;width:2812px;height:60px;background:#f9f9f9;"></div>
<div class="t" style="top:221.16px;font-size:29.7px;line-height:29.7px;color:#0b1a2b;left:79px;">Effectiveness</div>
<div class="a" style="left:600.4px;top:206px;width:2px;height:60px;background:#d9d9d9;"></div>
<div class="t" style="top:221.16px;font-size:29.7px;line-height:29.7px;color:#0b1a2b;left:-78.2px;width:1200px;text-align:right;">48.73 %</div>
<div class="a" style="left:1162.8px;top:206px;width:2px;height:60px;background:#d9d9d9;"></div>
<div class="t" style="top:221.16px;font-size:29.7px;line-height:29.7px;color:#0b1a2b;left:484.2px;width:1200px;text-align:right;">47.4 %</div>
<div class="a" style="left:1725.2px;top:206px;width:2px;height:60px;background:#d9d9d9;"></div>
<div class="t" style="top:221.16px;font-size:29.7px;line-height:29.7px;color:#0b1a2b;left:1046.6px;width:1200px;text-align:right;">47.4 %</div>
<div class="a" style="left:2287.6px;top:206px;width:2px;height:60px;background:#d9d9d9;"></div>
<div class="t" style="top:221.16px;font-size:29.7px;line-height:29.7px;color:#0b1a2b;left:1609px;width:1200px;text-align:right;">47.4 %</div>
<div class="t" style="top:306.91px;font-size:30px;line-height:30px;color:#5e6673;left:157px;width:1200px;text-align:right;">1 – 1 of 1</div>
<div class="t" style="top:304.56px;font-size:28.4px;line-height:28.4px;color:#5e6673;left:1395.5px;">Rows</div>
<div class="a" style="left:1484px;top:292px;width:176px;height:59px;background:#eef5fe;border:2px solid #b0bcc8;border-radius:16px;box-sizing:border-box;"></div>
<div class="t" style="top:307.33px;font-size:29.5px;line-height:29.5px;color:#252525;left:1514px;">10</div>
<svg class="a" style="left:1600.75px;top:310px;" width="34.5" height="22" viewBox="1616.75 2546 34.5 22"><path d="M1620.75 2550 L1634 2563 L1647.25 2550" fill="none" stroke="#1b57c4" stroke-width="3" stroke-linecap="butt" stroke-linejoin="miter"/></svg>
</section>
<section class="card " style="left:14px;top:2670px;width:2896px;height:532px">
<div class="t" style="top:54.3px;font-size:32.6px;line-height:32.6px;color:#0b1a2b;left:39.5px;">Client Near Cache</div>
<div class="a" style="left:2049px;top:40px;width:598px;height:60px;background:#eef5fe;border:2px solid #b0bcc8;border-radius:16px;box-sizing:border-box;"></div>
<div class="t" style="top:56.26px;font-size:31px;line-height:31px;color:#252525;left:2079px;">Default View</div>
<svg class="a" style="left:2588.75px;top:59px;" width="34.5" height="22" viewBox="2604.75 2731 34.5 22"><path d="M2608.75 2735 L2622 2748 L2635.25 2735" fill="none" stroke="#1b57c4" stroke-width="3" stroke-linecap="butt" stroke-linejoin="miter"/></svg>
<svg class="a" style="left:2667.5px;top:42px;" width="47" height="50" viewBox="2683.5 2714 47 50"><path d="M2687.7 2726.2 H2724.3 M2692.6 2726.4 V2753 Q2692.6 2757.6 2697.2 2757.6 H2715 Q2719.6 2757.6 2719.6 2753 V2726.4 M2698.6 2725.5 V2721.5 Q2698.6 2718.2 2702 2718.2 H2710.6 Q2714.1 2718.2 2714.1 2721.5 V2725.5 M2701.8 2735.4 V2748.4 M2709.9 2735.4 V2748.4" stroke="#646b78" stroke-width="2.4" fill="none" stroke-linecap="round" stroke-linejoin="round"/></svg>
<svg class="a" style="left:2733.6px;top:42px;" width="51" height="49" viewBox="2749.6 2714 51 49"><path d="M2772.6 2722.4 H2759 Q2754.2 2722.4 2754.2 2727 V2752.7 Q2754.2 2757.4 2758.8 2757.4 H2785 Q2789.6 2757.4 2789.6 2752.7 V2739.8 " stroke="#646b78" stroke-width="2.4" fill="none" stroke-linecap="butt" stroke-linejoin="round"/><path d="M2766.6 2746.2 L2768.6 2738.3 L2788.6 2718.9 A3.7 3.7 0 0 1 2794.1 2724.3 L2774.2 2744.2 Z" stroke="#646b78" stroke-width="2.4" fill="none" stroke-linejoin="round"/></svg>
<svg class="a" style="left:2809.25px;top:49.05px;" width="33.5" height="33.5" viewBox="2825.25 2721.05 33.5 33.5"><path d="M2828.25 2737.8 H2855.75 M2842 2724.05 V2751.55" stroke="#1b57c4" stroke-width="3" stroke-linecap="round" fill="none"/></svg>
<div class="clip" style="left:0px;top:0px;width:2852px;height:500px">
<div class="t" style="top:147.63px;font-size:30.8px;line-height:30.8px;color:#0b1a2b;font-weight:700;left:79px;">Client Name</div>
<svg class="a" style="left:275px;top:152.6px;" width="26" height="17" viewBox="291 2824.6 26 17"><path d="M294.5 2838.1 L304 2828.6 L313.5 2838.1" fill="none" stroke="#1b57c4" stroke-width="3" stroke-linecap="round" stroke-linejoin="miter"/></svg>
<div class="a" style="left:378px;top:147px;width:4px;height:30px;background:#d9d9d9;"></div>
<div class="t" style="top:147.63px;font-size:30.8px;line-height:30.8px;color:#0b1a2b;font-weight:700;left:419px;">Client Type</div>
<svg class="a" style="left:600.7px;top:152.6px;" width="26" height="17" viewBox="616.7 2824.6 26 17"><path d="M620.2 2838.1 L629.7 2828.6 L639.2 2838.1" fill="none" stroke="#1b57c4" stroke-width="3" stroke-linecap="round" stroke-linejoin="miter"/></svg>
<div class="a" style="left:718px;top:147px;width:4px;height:30px;background:#d9d9d9;"></div>
<div class="t" style="top:147.63px;font-size:30.8px;line-height:30.8px;color:#0b1a2b;font-weight:700;left:759px;">Client Version</div>
<svg class="a" style="left:982.38px;top:152.6px;" width="26" height="17" viewBox="998.38 2824.6 26 17"><path d="M1001.88 2838.1 L1011.38 2828.6 L1020.88 2838.1" fill="none" stroke="#1b57c4" stroke-width="3" stroke-linecap="round" stroke-linejoin="miter"/></svg>
<div class="a" style="left:1058px;top:147px;width:4px;height:30px;background:#d9d9d9;"></div>
<div class="t" style="top:147.63px;font-size:30.8px;line-height:30.8px;color:#0b1a2b;font-weight:700;left:1099px;">Client UUID</div>
<svg class="a" style="left:1286.4px;top:152.6px;" width="26" height="17" viewBox="1302.4 2824.6 26 17"><path d="M1305.9 2838.1 L1315.4 2828.6 L1324.9 2838.1" fill="none" stroke="#1b57c4" stroke-width="3" stroke-linecap="round" stroke-linejoin="miter"/></svg>
<div class="a" style="left:1398px;top:147px;width:4px;height:30px;background:#d9d9d9;"></div>
<div class="t" style="top:147.63px;font-size:30.8px;line-height:30.8px;color:#0b1a2b;font-weight:700;left:498.5px;width:1200px;text-align:right;">Evictions</div>
<svg class="a" style="left:1517.58px;top:152.6px;" width="26" height="17" viewBox="1533.58 2824.6 26 17"><path d="M1537.08 2838.1 L1546.58 2828.6 L1556.08 2838.1" fill="none" stroke="#1b57c4" stroke-width="3" stroke-linecap="round" stroke-linejoin="miter"/></svg>
<div class="a" style="left:1738px;top:147px;width:4px;height:30px;background:#d9d9d9;"></div>
<div class="t" style="top:147.63px;font-size:30.8px;line-height:30.8px;color:#0b1a2b;font-weight:700;left:838.5px;width:1200px;text-align:right;">Expirations</div>
<svg class="a" style="left:1826.78px;top:152.6px;" width="26" height="17" viewBox="1842.78 2824.6 26 17"><path d="M1846.28 2838.1 L1855.78 2828.6 L1865.28 2838.1" fill="none" stroke="#1b57c4" stroke-width="3" stroke-linecap="round" stroke-linejoin="miter"/></svg>
<div class="a" style="left:2078px;top:147px;width:4px;height:30px;background:#d9d9d9;"></div>
<div class="t" style="top:147.63px;font-size:30.8px;line-height:30.8px;color:#0b1a2b;font-weight:700;left:1178.5px;width:1200px;text-align:right;">Hits</div>
<svg class="a" style="left:2276.32px;top:152.6px;" width="26" height="17" viewBox="2292.32 2824.6 26 17"><path d="M2295.82 2838.1 L2305.32 2828.6 L2314.82 2838.1" fill="none" stroke="#1b57c4" stroke-width="3" stroke-linecap="round" stroke-linejoin="miter"/></svg>
<div class="a" style="left:2418px;top:147px;width:4px;height:30px;background:#d9d9d9;"></div>
<div class="t" style="top:147.63px;font-size:30.8px;line-height:30.8px;color:#0b1a2b;font-weight:700;left:1518.5px;width:1200px;text-align:right;">Misses</div>
<svg class="a" style="left:2571.78px;top:152.6px;" width="26" height="17" viewBox="2587.78 2824.6 26 17"><path d="M2591.28 2838.1 L2600.78 2828.6 L2610.28 2838.1" fill="none" stroke="#1b57c4" stroke-width="3" stroke-linecap="round" stroke-linejoin="miter"/></svg>
<div class="a" style="left:2758px;top:147px;width:4px;height:30px;background:#d9d9d9;"></div>
<svg class="a" style="left:2807px;top:152.6px;" width="26" height="17" viewBox="2823 2824.6 26 17"><path d="M2826.5 2838.1 L2836 2828.6 L2845.5 2838.1" fill="none" stroke="#1b57c4" stroke-width="3" stroke-linecap="round" stroke-linejoin="miter"/></svg>
<div class="a" style="left:40px;top:202px;width:2812px;height:60px;background:#f9f9f9;"></div>
<div class="t" style="top:217.16px;font-size:29.7px;line-height:29.7px;color:#0b1a2b;left:79px;">hz.client_1</div>
<div class="a" style="left:378px;top:202px;width:2px;height:60px;background:#d9d9d9;"></div>
<div class="t" style="top:217.16px;font-size:29.7px;line-height:29.7px;color:#0b1a2b;left:419px;">Java</div>
<div class="a" style="left:718px;top:202px;width:2px;height:60px;background:#d9d9d9;"></div>
<div class="t" style="top:217.16px;font-size:29.7px;line-height:29.7px;color:#0b1a2b;left:759px;">5.3.0-SNAPSHOT</div>
<div class="a" style="left:1058px;top:202px;width:2px;height:60px;background:#d9d9d9;"></div>
<div class="t" style="top:217.16px;font-size:29.7px;line-height:29.7px;color:#0b1a2b;left:1099px;">f34463ea-8c8a-4…</div>
<div class="a" style="left:1398px;top:202px;width:2px;height:60px;background:#d9d9d9;"></div>
<div class="t" style="top:217.16px;font-size:29.7px;line-height:29.7px;color:#0b1a2b;left:497px;width:1200px;text-align:right;">0</div>
<div class="a" style="left:1738px;top:202px;width:2px;height:60px;background:#d9d9d9;"></div>
<div class="t" style="top:217.16px;font-size:29.7px;line-height:29.7px;color:#0b1a2b;left:837px;width:1200px;text-align:right;">0</div>
<div class="a" style="left:2078px;top:202px;width:2px;height:60px;background:#d9d9d9;"></div>
<div class="t" style="top:217.16px;font-size:29.7px;line-height:29.7px;color:#0b1a2b;left:1177px;width:1200px;text-align:right;">203</div>
<div class="a" style="left:2418px;top:202px;width:2px;height:60px;background:#d9d9d9;"></div>
<div class="t" style="top:217.16px;font-size:29.7px;line-height:29.7px;color:#0b1a2b;left:1517px;width:1200px;text-align:right;">226</div>
<div class="a" style="left:2758px;top:202px;width:2px;height:60px;background:#d9d9d9;"></div>
<div class="t" style="top:217.16px;font-size:29.7px;line-height:29.7px;color:#0b1a2b;left:2807px;">47.</div>
<div class="a" style="left:40px;top:272px;width:2812px;height:60px;background:#f9f9f9;"></div>
<div class="t" style="top:287.16px;font-size:29.7px;line-height:29.7px;color:#0b1a2b;left:79px;">hz.client_2</div>
<div class="a" style="left:378px;top:272px;width:2px;height:60px;background:#d9d9d9;"></div>
<div class="t" style="top:287.16px;font-size:29.7px;line-height:29.7px;color:#0b1a2b;left:419px;">Java</div>
<div class="a" style="left:718px;top:272px;width:2px;height:60px;background:#d9d9d9;"></div>
<div class="t" style="top:287.16px;font-size:29.7px;line-height:29.7px;color:#0b1a2b;left:759px;">5.3.0-SNAPSHOT</div>
<div class="a" style="left:1058px;top:272px;width:2px;height:60px;background:#d9d9d9;"></div>
<div class="t" style="top:287.16px;font-size:29.7px;line-height:29.7px;color:#0b1a2b;left:1099px;">27523e79-d2f6-4…</div>
<div class="a" style="left:1398px;top:272px;width:2px;height:60px;background:#d9d9d9;"></div>
<div class="t" style="top:287.16px;font-size:29.7px;line-height:29.7px;color:#0b1a2b;left:497px;width:1200px;text-align:right;">0</div>
<div class="a" style="left:1738px;top:272px;width:2px;height:60px;background:#d9d9d9;"></div>
<div class="t" style="top:287.16px;font-size:29.7px;line-height:29.7px;color:#0b1a2b;left:837px;width:1200px;text-align:right;">0</div>
<div class="a" style="left:2078px;top:272px;width:2px;height:60px;background:#d9d9d9;"></div>
<div class="t" style="top:287.16px;font-size:29.7px;line-height:29.7px;color:#0b1a2b;left:1177px;width:1200px;text-align:right;">205</div>
<div class="a" style="left:2418px;top:272px;width:2px;height:60px;background:#d9d9d9;"></div>
<div class="t" style="top:287.16px;font-size:29.7px;line-height:29.7px;color:#0b1a2b;left:1517px;width:1200px;text-align:right;">224</div>
<div class="a" style="left:2758px;top:272px;width:2px;height:60px;background:#d9d9d9;"></div>
<div class="t" style="top:287.16px;font-size:29.7px;line-height:29.7px;color:#0b1a2b;left:2807px;">47.</div>
<div class="a" style="left:40px;top:342px;width:2812px;height:60px;background:#f9f9f9;"></div>
<div class="t" style="top:357.16px;font-size:29.7px;line-height:29.7px;color:#0b1a2b;left:79px;">hz.client_3</div>
<div class="a" style="left:378px;top:342px;width:2px;height:60px;background:#d9d9d9;"></div>
<div class="t" style="top:357.16px;font-size:29.7px;line-height:29.7px;color:#0b1a2b;left:419px;">Java</div>
<div class="a" style="left:718px;top:342px;width:2px;height:60px;background:#d9d9d9;"></div>
<div class="t" style="top:357.16px;font-size:29.7px;line-height:29.7px;color:#0b1a2b;left:759px;">5.3.0-SNAPSHOT</div>
<div class="a" style="left:1058px;top:342px;width:2px;height:60px;background:#d9d9d9;"></div>
<div class="t" style="top:357.16px;font-size:29.7px;line-height:29.7px;color:#0b1a2b;left:1099px;">2e9e401f-79ee-4…</div>
<div class="a" style="left:1398px;top:342px;width:2px;height:60px;background:#d9d9d9;"></div>
<div class="t" style="top:357.16px;font-size:29.7px;line-height:29.7px;color:#0b1a2b;left:497px;width:1200px;text-align:right;">0</div>
<div class="a" style="left:1738px;top:342px;width:2px;height:60px;background:#d9d9d9;"></div>
<div class="t" style="top:357.16px;font-size:29.7px;line-height:29.7px;color:#0b1a2b;left:837px;width:1200px;text-align:right;">0</div>
<div class="a" style="left:2078px;top:342px;width:2px;height:60px;background:#d9d9d9;"></div>
<div class="t" style="top:357.16px;font-size:29.7px;line-height:29.7px;color:#0b1a2b;left:1177px;width:1200px;text-align:right;">205</div>
<div class="a" style="left:2418px;top:342px;width:2px;height:60px;background:#d9d9d9;"></div>
<div class="t" style="top:357.16px;font-size:29.7px;line-height:29.7px;color:#0b1a2b;left:1517px;width:1200px;text-align:right;">224</div>
<div class="a" style="left:2758px;top:342px;width:2px;height:60px;background:#d9d9d9;"></div>
<div class="t" style="top:357.16px;font-size:29.7px;line-height:29.7px;color:#0b1a2b;left:2807px;">47.</div>
</div>
<div class="t" style="top:443.91px;font-size:30px;line-height:30px;color:#5e6673;left:157px;width:1200px;text-align:right;">1 – 3 of 3</div>
<div class="t" style="top:441.56px;font-size:28.4px;line-height:28.4px;color:#5e6673;left:1395.5px;">Rows</div>
<div class="a" style="left:1484px;top:429px;width:176px;height:59px;background:#eef5fe;border:2px solid #b0bcc8;border-radius:16px;box-sizing:border-box;"></div>
<div class="t" style="top:444.33px;font-size:29.5px;line-height:29.5px;color:#252525;left:1514px;">10</div>
<svg class="a" style="left:1600.75px;top:447px;" width="34.5" height="22" viewBox="1616.75 3119 34.5 22"><path d="M1620.75 3123 L1634 3136 L1647.25 3123" fill="none" stroke="#1b57c4" stroke-width="3" stroke-linecap="butt" stroke-linejoin="miter"/></svg>
</section>
</body></html>
